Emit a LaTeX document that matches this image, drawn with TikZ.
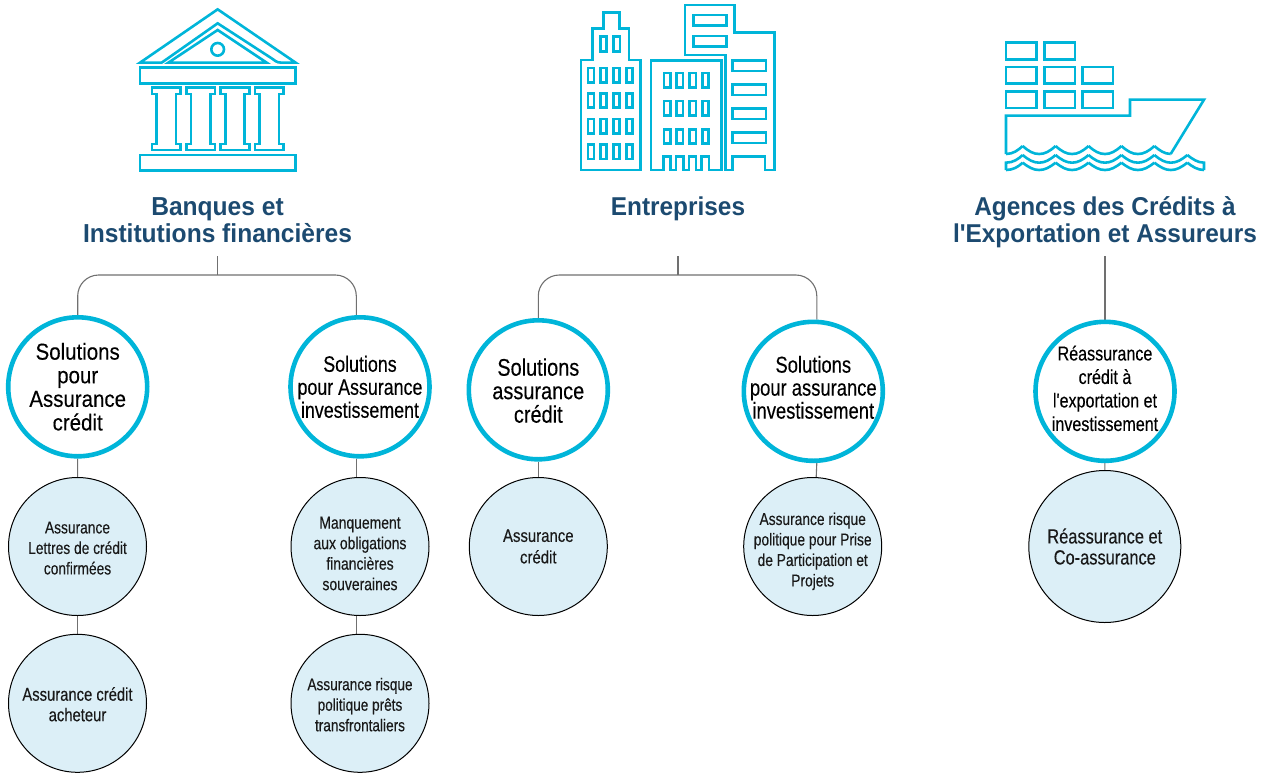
\documentclass[tikz,border=0pt]{standalone}
\usepackage{fontspec}
\setmainfont{Liberation Sans}
\newfontfamily\condf[FakeStretch=0.8,FakeBold=0.25]{Liberation Sans}
\newfontfamily\condw[FakeStretch=0.89,FakeBold=0.25]{Liberation Sans}
\newfontfamily\condm[FakeStretch=0.83,FakeBold=0.25]{Liberation Sans}
\newfontfamily\titlef[FakeStretch=0.945]{Liberation Sans}
\usetikzlibrary{backgrounds,calc}
\definecolor{teal}{HTML}{00B5D9}
\definecolor{navy}{HTML}{1C4A70}
\definecolor{pale}{HTML}{DCEFF7}
\definecolor{wire}{HTML}{707070}
\newcommand{\fsz}[2]{\fontsize{#1}{#2}\selectfont\condf}
\newcommand{\fsw}[2]{\fontsize{#1}{#2}\selectfont\condw}
\newcommand{\fsm}[2]{\fontsize{#1}{#2}\selectfont\condm}
\newcommand{\lowr}[1]{\rule{0pt}{#1pt}}
\newcommand{\lift}[1]{\rule[-#1pt]{0pt}{#1pt}}
\newcommand{\nar}[1]{\makebox[80pt]{#1}}
\tikzset{
  icon/.style={draw=teal,line width=2.6pt,miter limit=4},
  bigc/.style={circle,draw=teal,line width=4.6pt,fill=white,minimum size=139pt,inner sep=0pt,align=center,text=black},
  smallc/.style={circle,draw=black,line width=1pt,fill=pale,minimum size=138pt,inner sep=0pt,align=center,text=black!90},
  titlen/.style={align=center,text=navy,font=\fontsize{26}{26.5}\selectfont\titlef\bfseries},
  titlem/.style={titlen,font=\fontsize{25.8}{26.5}\selectfont\titlef\bfseries},
  wirel/.style={draw=wire,line width=1.1pt},
}
\newcommand{\wavepath}[4]{%
  \foreach \i in {#3,...,#4}{
    \pgfmathsetmacro{\px}{83+98.8*\i}
    \pgfmathsetmacro{\nx}{\px+98.8}
    \draw[icon] (\px,#1) .. controls ({\px+18},{#2-8}) and ({\px+32},#2) .. ({\px+49.4},#2) .. controls ({\nx-32},#2) and ({\nx-18},{#2-8}) .. (\nx,#1);
  }
}
\begin{document}
\begin{tikzpicture}[x=1pt,y=-1pt]
\useasboundingbox (0,0) rectangle (1266,774);
% Temple
\begin{scope}[shift={(120,0)}]\begin{scope}[scale=1/3]
\draw[icon] (125,188) -- (60,188) -- (293,28) -- (527,188) -- (485,188) .. controls (468,188) and (465,181) .. (455,175) -- (293,70) -- cycle;
\draw[icon] (145,188) -- (293,90) -- (440,188) -- cycle;
\draw[icon] (293,148) circle (19);
\draw[icon] (60,202) rectangle (527,250);
\draw[icon] (60,465) rectangle (527,511);
\foreach \d in {0,103,206,309}{
\draw[icon,shift={(\d,0)}] (96,263) -- (182,263) -- (182,282) -- (168,282) -- (168,432) -- (182,432) -- (182,450) -- (96,450) -- (96,432) -- (110,432) -- (110,282) -- (96,282) -- cycle;
}
\end{scope}\end{scope}
% City
\begin{scope}[shift={(570,0)}]\begin{scope}[scale=1/3]
\draw[icon] (33,510) -- (33,180) -- (68,180) -- (68,85) -- (100,85) -- (100,37) -- (148,37) -- (148,85) -- (177,85) -- (177,180) -- (212,180) -- (212,510) -- cycle;
\draw[icon] (92,110) rectangle (110,154);
\draw[icon] (131,110) rectangle (150,154);
\foreach \x in {51,89,128,167}\foreach \y in {201,277,354,431}{
\draw[icon] ({\x+3},{\y+3}) rectangle ({\x+21},{\y+46});}
\draw[icon] (243,510) -- (243,181) -- (455,181) -- (455,510) -- (417,510) -- (417,470) -- (395,470) -- (395,510) -- (378,510) -- (378,470) -- (357,470) -- (357,510) -- (340,510) -- (340,470) -- (318,470) -- (318,510) -- (302,510) -- (302,470) -- (280,470) -- (280,510) -- cycle;
\foreach \x in {279,317,356,394}\foreach \y in {216,300,385}{
\draw[icon] ({\x+3},{\y+3}) rectangle ({\x+22},{\y+46});}
\draw[icon] (345,165) -- (345,15) -- (493,15) -- (493,97) -- (613,97) -- (613,510) -- (585,510) -- (585,470) -- (488,470) -- (488,510) -- (466,510) -- (466,165) -- cycle;
\draw[icon] (370,45) rectangle (470,77);
\draw[icon] (370,108) rectangle (470,140);
\foreach \y in {181,253,325,397}{
\draw[icon] (488,\y) rectangle (588,{\y+32});}
\end{scope}\end{scope}
% Ship
\begin{scope}[shift={(995,30)}]\begin{scope}[scale=1/3]
\foreach \x/\y in {33/38,148/38,33/111,148/111,262/111,33/184,148/184,262/184}{
\draw[icon] (\x,\y) rectangle ({\x+92},{\y+50});}
\draw[icon] (33,372) -- (33,257) -- (405,257) -- (405,209) -- (627,209) -- (527,372);
\wavepath{348}{372}{0}{3}
\draw[icon] (33,372) .. controls (55,372) and (70,360) .. (83,348);
\draw[icon] (478,348) .. controls (492,360) and (508,372) .. (527,372);
\wavepath{375}{398}{0}{4}
\draw[icon] (33,420) -- (33,398) .. controls (55,398) and (70,387) .. (83,375);
\draw[icon] (577,375) .. controls (592,387) and (608,398) .. (627,398) -- (627,420);
\wavepath{398}{420}{0}{4}
\draw[icon] (33,420) .. controls (55,420) and (70,410) .. (83,398);
\draw[icon] (577,398) .. controls (592,410) and (608,420) .. (627,420);
\end{scope}\end{scope}
% Titles
\node[titlen] (t1) at (217.5,220) {Banques et\\Institutions financières};
\node[titlem] (t2) at (678,209) {Entreprises};
\node[titlem] (t3) at (1105,222) {Agences des Crédits à\\l'Exportation et Assureurs};
\coordinate (s1) at (217.5,256);
\coordinate (s2) at (678,256);
\coordinate (s3) at (1105,256);
\coordinate (j1) at (217.5,275);
\coordinate (j2) at (678,275);
% Main circles
\node[bigc,font=\fsw{23}{23.6}] (c1) at (77.7,386.8) {Solutions\\pour\\Assurance\\crédit};
\node[bigc,font=\fsz{22.3}{23}] (c2) at (360,386.8) {Solutions\\\nar{pour Assurance}\\\nar{investissement}};
\node[bigc,font=\fsm{24}{23.5}] (c3) at (538.3,389.8) {\lowr{19}Solutions\\assurance\\crédit};
\node[bigc,font=\fsz{23}{23}] (c4) at (813.3,391.3) {Solutions\\\nar{pour assurance}\\\nar{investissement}\lift{8}};
\node[bigc,font=\fsz{20.1}{23.5}] (c5) at (1105,391.3) {Réassurance\\crédit à\\\nar{l'exportation et}\\\nar{investissement}\lift{6}};
% Small circles
\node[smallc,font=\fsz{17.2}{20.5}] (l1) at (77.5,546.5) {\lowr{15}Assurance\\\nar{Lettres de crédit}\\confirmées};
\node[smallc,font=\fsz{18.5}{20.5}] (l2) at (77.5,703.3) {\lowr{15.5}Assurance crédit\\acheteur};
\node[smallc,font=\fsz{17.4}{20.5}] (l3) at (360,546.5) {\lowr{26}Manquement\\\nar{aux obligations}\\financières\\souveraines};
\node[smallc,font=\fsz{17}{20.5}] (l4) at (360,703.3) {\lowr{15}\nar{Assurance risque}\\politique prêts\\transfrontaliers};
\node[smallc,font=\fsm{18}{21.5}] (l5) at (538.3,546.5) {Assurance\\crédit};
\node[smallc,font=\fsz{17.2}{20.5}] (l6) at (812.7,546.5) {\lowr{22}\nar{Assurance risque}\\\nar{politique pour Prise}\\\nar{de Participation et}\\Projets};
\node[smallc,minimum size=152pt,font=\fsz{20.5}{21}] (l7) at (1104.8,546.5) {Réassurance et\\Co-assurance};
% Connectors
\begin{scope}[on background layer]
\draw[wirel] (s1) -- (j1);
\draw[wirel] (s2) -- (j2);
\draw[wirel,rounded corners=21pt] (c1.north) |- (j1) -| ([xshift=-3.7pt]c2.north);
\draw[wirel,rounded corners=21pt] (c3.north) |- (j2) -| ([xshift=3.5pt]c4.north);
\draw[wirel] (s3) -- (c5.north);
\draw[wirel] (c1) -- (l1);
\draw[wirel] (l1) -- (l2);
\draw[wirel] ([xshift=-3.7pt]c2.south) -- ([xshift=-3.7pt]l3.north);
\draw[wirel] ([xshift=-3.7pt]l3.south) -- ([xshift=-3.7pt]l4.north);
\draw[wirel] (c3) -- (l5);
\draw[wirel] ([xshift=3.5pt]c4.south) -- ([xshift=3.5pt]l6.north);
\draw[wirel] (c5) -- (l7);
\end{scope}
\end{tikzpicture}
\end{document}
